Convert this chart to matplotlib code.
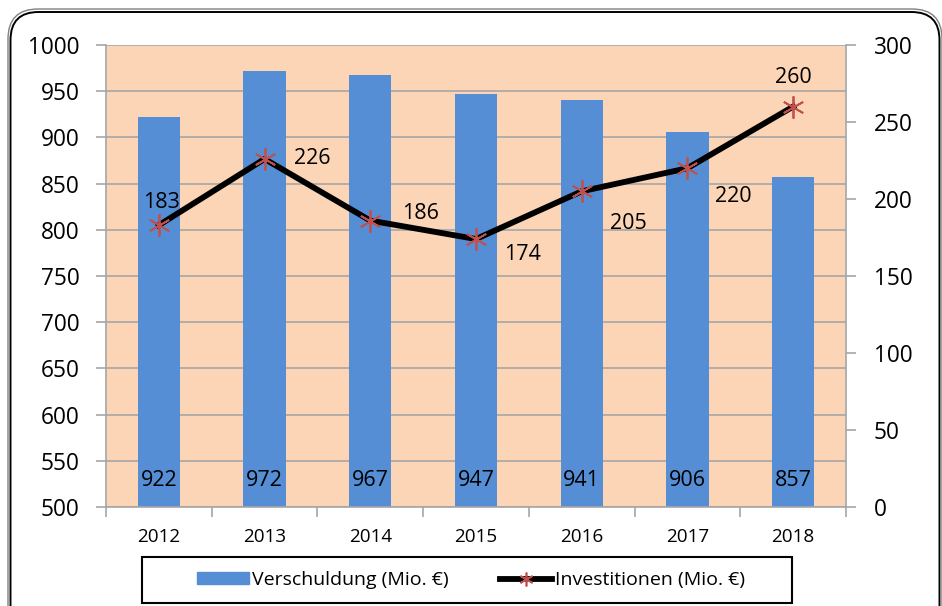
import matplotlib.pyplot as plt
import numpy as np
from matplotlib.patches import FancyBboxPatch, Rectangle, Patch
from matplotlib.lines import Line2D

plt.rcParams['font.family'] = ['Open Sans', 'DejaVu Sans']

# Data
years = ['2012', '2013', '2014', '2015', '2016', '2017', '2018']
debt = [922, 972, 967, 947, 941, 906, 857]
invest = [183, 226, 186, 174, 205, 220, 260]

# label offsets for the line values (pixels)
inv_offsets = [(3, 23), (48, 0), (50, 7), (46, -15), (47, -32), (46, -28), (0, 29)]

bar_color = '#558ED5'
bg_color = '#FBD5B5'
grid_color = '#A6A6A6'

fig = plt.figure(figsize=(9.42, 6.06), dpi=100)
ax = fig.add_axes([106 / 942, 1 - 507 / 606, 740 / 942, 462 / 606])
ax.set_facecolor(bg_color)

x = np.arange(len(years))
ax.bar(x, debt, width=0.4, color=bar_color, zorder=2)
ax.set_ylim(500, 1000)
ax.set_xlim(-0.5, len(years) - 0.5)
ax.set_yticks(np.arange(500, 1001, 50))
ax.yaxis.grid(True, color=grid_color, lw=1.2, zorder=0)
ax.set_axisbelow(True)
ax.tick_params(axis='y', labelsize=16.3, length=7, color=grid_color, width=1.2, pad=12)
ax.set_xticks(x)
ax.set_xticklabels(years)
ax.set_xticks(np.arange(-0.5, len(years), 1), minor=True)
ax.tick_params(axis='x', which='major', length=0, labelsize=13.6, pad=15)
ax.tick_params(axis='x', which='minor', length=7, color=grid_color, width=1.2)
for s in ['left', 'bottom', 'right']:
    ax.spines[s].set_color(grid_color)
    ax.spines[s].set_linewidth(1.2)
ax.spines['top'].set_visible(False)

for xi, v in zip(x, debt):
    ax.annotate(str(v), (xi, 500), xytext=(0, 27), textcoords='offset pixels',
                ha='center', va='center', fontsize=15.5, zorder=5)

ax2 = ax.twinx()
ax2.set_ylim(0, 300)
ax2.set_yticks(np.arange(0, 301, 50))
ax2.tick_params(axis='y', labelsize=16.3, length=7, color=grid_color, width=1.2, pad=13)
for s in ['left', 'bottom', 'right', 'top']:
    ax2.spines[s].set_visible(False)
ax2.plot(x, invest, color='black', lw=4.2, marker=(6, 2, 0), markersize=16,
         markeredgecolor='#C0504D', markeredgewidth=1.3, zorder=4)
for xi, v, off in zip(x, invest, inv_offsets):
    ax2.annotate(str(v), (xi, v), xytext=off, textcoords='offset pixels',
                 ha='center', va='center', fontsize=15.5)

handles = [Patch(color=bar_color),
           Line2D([], [], color='black', lw=4.2, marker=(6, 2, 0), markersize=10,
                  markeredgecolor='#C0504D', markeredgewidth=1.2)]
leg = fig.legend(handles, ['Verschuldung (Mio. €)', 'Investitionen (Mio. €)'],
                 loc='center', bbox_to_anchor=(471 / 942, 26 / 606), ncol=2,
                 fontsize=14, frameon=False, handlelength=2.7, handleheight=0.55,
                 handletextpad=0.15, columnspacing=2.6, borderpad=0.2)

fig.patches.append(Rectangle((142, 3), 650, 46, transform=None, facecolor='white',
                             edgecolor='black', lw=1.5, zorder=0))

# double rounded border
outer = FancyBboxPatch((8, -32), 934, 629, boxstyle='round,pad=0,rounding_size=30',
                       transform=None, facecolor='none', edgecolor='#808080', lw=1.0)
inner = FancyBboxPatch((10.5, -30), 929, 624, boxstyle='round,pad=0,rounding_size=28',
                       transform=None, facecolor='none', edgecolor='black', lw=1.4)
fig.patches.append(outer)
fig.patches.append(inner)

fig.savefig('out.png', dpi=100)
